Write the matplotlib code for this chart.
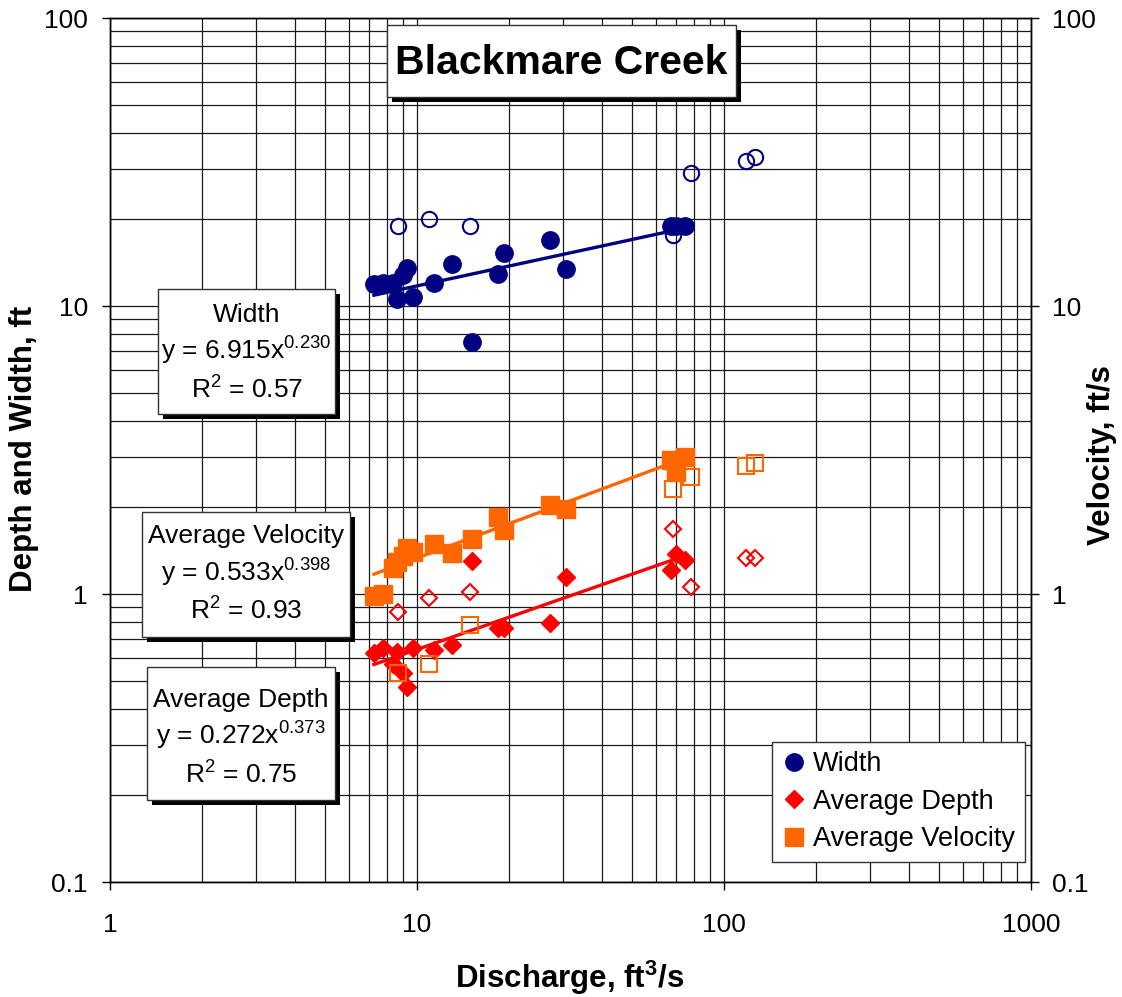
import numpy as np
import matplotlib
matplotlib.use("Agg")
import matplotlib.pyplot as plt
from matplotlib.patches import Rectangle
from matplotlib.lines import Line2D
from matplotlib.ticker import FixedLocator, FixedFormatter, LogLocator, NullFormatter

plt.rcParams['font.family'] = ['Liberation Sans', 'DejaVu Sans']
plt.rcParams['mathtext.fontset'] = 'custom'
plt.rcParams['mathtext.rm'] = 'Liberation Sans'
plt.rcParams['mathtext.sf'] = 'Liberation Sans'
plt.rcParams['mathtext.it'] = 'Liberation Sans:italic'
plt.rcParams['mathtext.bf'] = 'Liberation Sans:bold'

# ---------------- data ----------------
# measurements used in the fits (filled markers)
discharge_fit = [7.24, 7.77, 8.33, 8.59, 9.02, 9.30, 9.68, 11.36, 12.98, 15.1,
                 18.3, 19.2, 27.2, 30.5, 67.0, 70.0, 74.6]
width_fit = [11.92, 11.99, 11.99, 10.55, 12.81, 13.51, 10.77, 11.99, 13.99, 7.48,
             12.91, 15.31, 16.95, 13.48, 18.96, 18.96, 18.96]
depth_fit = [0.622, 0.648, 0.57, 0.63, 0.53, 0.477, 0.648, 0.639, 0.665, 1.305,
             0.76, 0.76, 0.795, 1.148, 1.21, 1.38, 1.31]
velocity_fit = [0.984, 1.00, 1.23, 1.29, 1.35, 1.44, 1.40, 1.49, 1.39, 1.55,
                1.856, 1.67, 2.03, 1.98, 2.92, 2.66, 2.98]

# measurements not used in the fits (open markers)
discharge_ex = [8.69, 10.94, 14.88, 68.4, 77.9, 118, 126]
width_ex = [18.96, 20.05, 18.96, 17.64, 28.9, 31.9, 32.8]
depth_ex = [0.868, 0.966, 1.014, 1.677, 1.06, 1.33, 1.33]
velocity_ex = [0.530, 0.570, 0.778, 2.31, 2.54, 2.78, 2.86]

# power-law fit coefficients (as shown in the chart)
width_coef = (6.915, 0.230)
depth_coef = (0.272, 0.373)
velocity_coef = (0.533, 0.398)

x_ticks = [1, 10, 100, 1000]
x_tick_labels = ['1', '10', '100', '1000']
y_ticks = [0.1, 1, 10, 100]
y_tick_labels = ['0.1', '1', '10', '100']

series_names = ['Width', 'Average Depth', 'Average Velocity']
title_text = 'Blackmare Creek'

# ---------------- styles ----------------
C_W = '#000080'
C_D = '#FF0000'
C_V = '#FF6600'

W, H = 1122, 997
fig = plt.figure(figsize=(W / 100, H / 100), dpi=100)


def fx(px):
    return px / W


def fy(py):
    return 1 - py / H


L, R, T, B = 110, 1031, 18, 882
ax = fig.add_axes([fx(L), fy(B), fx(R) - fx(L), fy(T) - fy(B)])
ax.set_xscale('log')
ax.set_yscale('log')
ax.set_xlim(1, 1000)
ax.set_ylim(0.1, 100)

ax2 = ax.twinx()
ax2.set_yscale('log')
ax2.set_ylim(0.1, 100)

for a in (ax, ax2):
    a.yaxis.set_major_locator(FixedLocator(y_ticks))
    a.yaxis.set_major_formatter(FixedFormatter(y_tick_labels))
    a.yaxis.set_minor_locator(LogLocator(base=10, subs=np.arange(2, 10)))
    a.yaxis.set_minor_formatter(NullFormatter())
    for s in a.spines.values():
        s.set_color('black')
        s.set_linewidth(1.0)
ax.xaxis.set_major_locator(FixedLocator(x_ticks))
ax.xaxis.set_major_formatter(FixedFormatter(x_tick_labels))
ax.xaxis.set_minor_locator(LogLocator(base=10, subs=np.arange(2, 10)))
ax.xaxis.set_minor_formatter(NullFormatter())

ax.tick_params(axis='both', which='major', direction='out', length=6, width=1,
               labelsize=19, colors='black')
ax.tick_params(axis='x', which='major', pad=16)
ax.tick_params(axis='y', which='major', pad=10)
ax.tick_params(which='minor', length=0)
ax2.tick_params(axis='y', which='major', direction='out', length=6, width=1,
                labelsize=19, pad=9)
ax2.tick_params(which='minor', length=0)

ax.grid(True, which='both', color='#1a1a1a', linewidth=0.9)
ax.set_axisbelow(True)

# trend lines
qmin, qmax = min(discharge_fit), max(discharge_fit)
qline = np.geomspace(qmin, qmax, 50)
ax.plot(qline, width_coef[0] * qline ** width_coef[1], color=C_W, lw=2.4, zorder=3)
ax.plot(qline, depth_coef[0] * qline ** depth_coef[1], color=C_D, lw=2.4, zorder=3)
ax2.plot(qline, velocity_coef[0] * qline ** velocity_coef[1], color=C_V, lw=2.4, zorder=3)

# filled markers
ax.plot(discharge_fit, width_fit, 'o', color=C_W, ms=12.5, mec=C_W, zorder=4, ls='none')
ax.plot(discharge_fit, depth_fit, 'D', color=C_D, ms=9, mec=C_D, zorder=4, ls='none')
ax2.plot(discharge_fit, velocity_fit, 's', color=C_V, ms=12.5, mec=C_V, zorder=4, ls='none')

# open markers
ax.plot(discharge_ex, width_ex, 'o', mfc='none', mec=C_W, mew=1.5, ms=11, zorder=4, ls='none')
ax.plot(discharge_ex, depth_ex, 'D', mfc='none', mec=C_D, mew=1.5, ms=8.3, zorder=4, ls='none')
ax2.plot(discharge_ex, velocity_ex, 's', mfc='none', mec=C_V, mew=1.5, ms=12, zorder=4, ls='none')

# axis labels
fig.text(fx(570), fy(988), r'Discharge, ft$\mathbf{^3}$/s', fontsize=22.5, fontweight='bold',
         ha='center', va='baseline')
fig.text(fx(24), fy(449), 'Depth and Width, ft', fontsize=22.5, fontweight='bold',
         rotation=90, ha='center', va='center')
fig.text(fx(1102), fy(455), 'Velocity, ft/s', fontsize=22.5, fontweight='bold',
         rotation=90, ha='center', va='center')


def shadow_box(x0, y0, x1, y1, off=5):
    fig.add_artist(Rectangle((fx(x0 + off), fy(y1 + off)), fx(x1 - x0), fy(y0) - fy(y1),
                             transform=fig.transFigure, facecolor='black',
                             edgecolor='black', lw=0, zorder=5))
    fig.add_artist(Rectangle((fx(x0), fy(y1)), fx(x1 - x0), fy(y0) - fy(y1),
                             transform=fig.transFigure, facecolor='white',
                             edgecolor='#333333', lw=1.0, zorder=6))


# title box
shadow_box(387, 25, 736, 97)
fig.text(fx(561.5), fy(73.5), title_text, fontsize=29.5, fontweight='bold',
         ha='center', va='baseline', zorder=7)


# equation boxes
def eq_box(box, cx, baselines, name, coef, r2):
    shadow_box(*box)
    lines = [name,
             r'y = %.3f$\mathrm{x^{%.3f}}$' % (coef[0], coef[1]),
             r'$\mathrm{R^2}$ = %.2f' % r2]
    for txt, by in zip(lines, baselines):
        fig.text(fx(cx), fy(by), txt, fontsize=19, ha='center', va='baseline', zorder=7)


eq_box((158, 289, 335, 414), 246.5, (321.7, 360, 398.3), series_names[0], width_coef, 0.57)
eq_box((142, 512, 350, 637), 246, (543.3, 581.7, 620), series_names[2], velocity_coef, 0.93)
eq_box((147, 667, 335, 800), 241, (706.7, 745, 783.3), series_names[1], depth_coef, 0.75)

# legend
handles = [Line2D([], [], ls='none', marker='o', color=C_W, ms=12.5),
           Line2D([], [], ls='none', marker='D', color=C_D, ms=9),
           Line2D([], [], ls='none', marker='s', color=C_V, ms=12.5)]
leg = fig.legend(handles, series_names, loc='upper right',
                 bbox_to_anchor=(fx(1024.5), fy(741.5)), bbox_transform=fig.transFigure,
                 fontsize=19.5, frameon=True, fancybox=False, shadow=False,
                 framealpha=1, edgecolor='#333333', borderpad=0.35, labelspacing=0.43,
                 handlelength=0.9, handletextpad=0.25, borderaxespad=0)
leg.get_frame().set_linewidth(1.0)
leg.set_zorder(8)

fig.savefig('out.png', dpi=100)
